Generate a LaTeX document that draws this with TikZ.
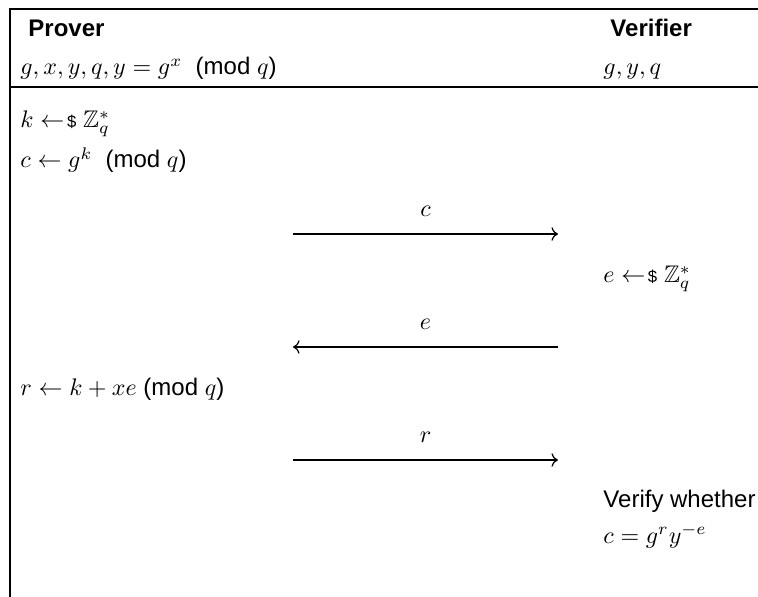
\documentclass[tikz,border=0pt]{standalone}
\usepackage{amsmath,amssymb}
\usepackage[no-math]{fontspec}
\setmainfont{Liberation Sans}
\usetikzlibrary{positioning,arrows.meta}
\newcommand{\samp}{\mathrel{\leftarrow\mkern-3mu\text{\scriptsize\$}}}

\begin{document}
\begin{tikzpicture}[x=0.4167pt, y=-0.4167pt,
    head/.style={anchor=base west, inner sep=0pt, font=\bfseries},
    entry/.style={anchor=base west, inner sep=0pt},
    frame/.style={line width=0.8pt},
    msg/.style={-{To}, line width=0.5pt},
    lbl/.style={above=7pt, inner sep=0pt}
]
\useasboundingbox (0,0) rectangle (758,597);

% Frame
\coordinate (tl) at (10,9);
\coordinate (tr) at (758,9);
\coordinate (bl) at (10,597);
\coordinate (hl) at (10,87);
\coordinate (hr) at (758,87);
\draw[frame] (bl) -- (tl) -- (tr);
\draw[frame] (hl) -- (hr);

% Parties and what they know
\node[head] (prover) at (28,37) {Prover};
\node[head] (verifier) at (610,37) {Verifier};
\node[entry] (pknow) at (20,75) {$g, x, y, q, y = g^x$ \ (mod $q$)};
\node[entry] (vknow) at (603,75) {$g, y, q$};

% Commitment
\node[entry] (pk) at (20,128) {$k \samp \mathbb{Z}_q^*$};
\node[entry] (pc) at (20,168) {$c \leftarrow g^k$ \ (mod $q$)};

% Challenge
\node[entry] (ve) at (603,283) {$e \samp \mathbb{Z}_q^*$};

% Response
\node[entry] (pr) at (20,395) {$r \leftarrow k + xe$ (mod $q$)};

% Check
\node[entry] (vcheck) at (603,507) {Verify whether};
\node[entry] (vtest) at (603,543) {$c = g^r y^{-e}$};

% Messages
\foreach \m/\y in {c/234, e/347, r/460} {
  \coordinate (\m L) at (293,\y);
  \coordinate (\m R) at (558,\y);
}
\draw[msg] (cL) -- node[lbl] (lc) {$c$} (cR);
\draw[msg] (eR) -- node[lbl] (le) {$e$} (eL);
\draw[msg] (rL) -- node[lbl] (lr) {$r$} (rR);

\end{tikzpicture}
\end{document}
